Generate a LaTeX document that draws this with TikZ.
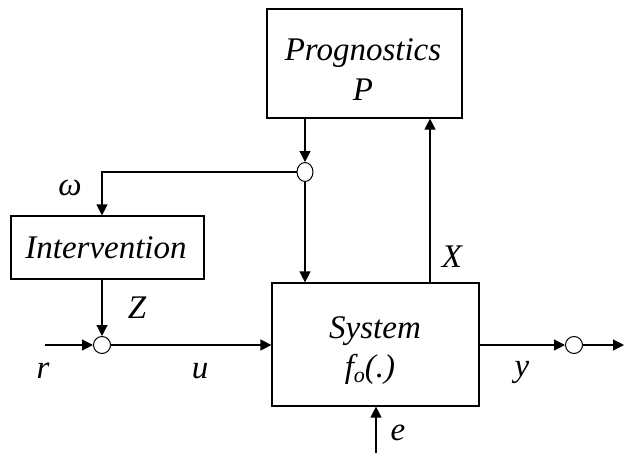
\documentclass[tikz,border=0pt]{standalone}
\usepackage{fontspec}
\setmainfont{Liberation Serif}
\usetikzlibrary{arrows.meta,shapes.geometric,calc}
\begin{document}
\begin{tikzpicture}[x=1pt,y=-1pt,
  line width=1.2pt,
  blk/.style={draw,rectangle,inner sep=0pt},
  junc/.style={draw,ellipse,inner sep=0pt,line width=1pt},
  arr/.style={-{Triangle[length=11pt,width=11pt]}},
  txt/.style={font=\fontsize{33}{36}\selectfont\itshape,anchor=base,inner sep=0pt}]
\useasboundingbox (0,0) rectangle (624,453);
% blocks
\node[blk,minimum width=195pt,minimum height=109pt] (P) at (364.5,63.5) {};
\node[blk,minimum width=193pt,minimum height=63pt] (I) at (107.5,247.5) {};
\node[blk,minimum width=207pt,minimum height=123pt] (S) at (375.5,344.5) {};
% texts
\node[txt] (tP1) at (363,60) {Prognostics};
\node[txt] (tP2) at (363,100) {P};
\node[txt] (tI) at (106,258) {Intervention};
\node[txt] (tS1) at (375,338) {System};
\node[txt] (tS2) at (370,377) {f\raisebox{-5pt}{\fontsize{22}{22}\selectfont o}(.)};
% junctions
\node[junc,minimum width=16pt,minimum height=19pt] (c1) at (305,172) {};
\node[junc,minimum width=17pt,minimum height=17pt] (c2) at (102,345) {};
\node[junc,minimum width=17pt,minimum height=17pt] (c3) at (574,345) {};
% coordinates
\coordinate (wx) at (102,0);
\coordinate (xl) at (430,0);
\coordinate (rin) at (45,345);
\coordinate (yout) at (624,345);
\coordinate (ein) at (376,453);
% connectors
\draw[arr] (P.south -| c1) -- (c1.north);
\draw[arr] (c1.west) -| (I.north -| wx);
\draw[arr] (c1.south) -- (S.north -| c1);
\draw[arr] (I.south -| c2) -- (c2.north);
\draw[arr] (rin) -- (c2.west);
\draw[arr] (c2.east) -- (S.west |- c2);
\draw[arr] (S.north -| xl) -- (P.south -| xl);
\draw[arr] (S.east |- c3) -- (c3.west);
\draw[arr] (c3.east) -- (yout);
\draw[arr] (ein) -- (S.south -| ein);
% labels
\node[txt] (lw) at (70,195) {ω};
\node[txt] (lZ) at (137,318) {Z};
\node[txt] (lr) at (43,378) {r};
\node[txt] (lu) at (200,378) {u};
\node[txt] (lX) at (452,267) {X};
\node[txt] (ly) at (522,376) {y};
\node[txt] (le) at (398,440) {e};
\end{tikzpicture}
\end{document}
